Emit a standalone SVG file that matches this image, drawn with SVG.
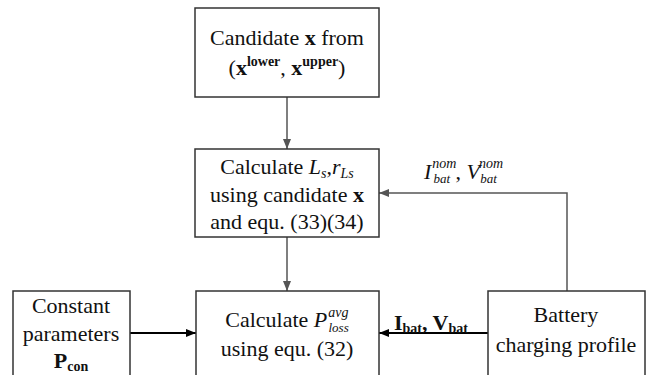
<svg xmlns="http://www.w3.org/2000/svg" width="652" height="375" viewBox="0 0 652 375">
<style>
.box{fill:#fff;stroke:#333;stroke-width:1.5}
.t{font-size:22px;fill:#111}
.c{text-anchor:middle}
.g{stroke:#555;stroke-width:1.5;fill:none}
.k{stroke:#000;stroke-width:2.2;fill:none}
.sup{font-size:14px}
.sub{font-size:13px}
</style>
<defs>
<marker id="ag" viewBox="0 0 10 8" refX="10" refY="4" markerWidth="10" markerHeight="8" markerUnits="userSpaceOnUse" orient="auto"><path d="M0,0 L10,4 L0,8 Z" fill="#555"/></marker>
<marker id="ak" viewBox="0 0 10 8" refX="10" refY="4" markerWidth="10" markerHeight="8" markerUnits="userSpaceOnUse" orient="auto"><path d="M0,0 L10,4 L0,8 Z" fill="#000"/></marker>
</defs>
<g id="connectors">
<line class="g" x1="287" y1="97" x2="287" y2="149" marker-end="url(#ag)"/>
<line class="g" x1="287" y1="237" x2="287" y2="291" marker-end="url(#ag)"/>
<polyline class="g" points="567,291 567,193 379,193" marker-end="url(#ag)"/>
<line class="k" x1="130" y1="333" x2="196" y2="333" marker-end="url(#ak)"/>
<line class="k" x1="488" y1="333" x2="379" y2="333" marker-end="url(#ak)"/>
<text class="t" font-family="Liberation Serif" x="424" y="179"><tspan font-style="italic">I</tspan><tspan class="sup" font-style="italic" dx="1" dy="-11">nom</tspan><tspan class="sub" font-style="italic" dx="-23" dy="15">bat</tspan><tspan dy="-4"> , </tspan><tspan font-style="italic">V</tspan><tspan class="sup" font-style="italic" dx="-1" dy="-11">nom</tspan><tspan class="sub" font-style="italic" dx="-23" dy="15">bat</tspan></text>
<text class="t" font-family="Liberation Serif" x="394" y="330" font-weight="bold">I<tspan class="sup" dy="3">bat</tspan><tspan dy="-3">, V</tspan><tspan class="sup" dy="3">bat</tspan></text>
</g>
<g id="n1">
<rect class="box" x="195" y="8" width="184" height="89"/>
<text class="t c" font-family="Liberation Serif" x="287" y="45">Candidate <tspan font-weight="bold">x</tspan> from</text>
<text class="t c" font-family="Liberation Serif" x="287" y="75">(<tspan font-weight="bold">x</tspan><tspan class="sup" font-weight="bold" dy="-9">lower</tspan><tspan dy="9">, </tspan><tspan font-weight="bold">x</tspan><tspan class="sup" font-weight="bold" dy="-9">upper</tspan><tspan dy="9">)</tspan></text>
</g>
<g id="n2">
<rect class="box" x="195" y="149" width="184" height="88"/>
<text class="t c" font-family="Liberation Serif" x="287" y="174">Calculate <tspan font-style="italic">L</tspan><tspan class="sup" font-style="italic" dy="4">s</tspan><tspan dy="-4">,</tspan><tspan font-style="italic">r</tspan><tspan class="sup" font-style="italic" dy="4">Ls</tspan></text>
<text class="t c" font-family="Liberation Serif" x="287" y="202">using candidate <tspan font-weight="bold">x</tspan></text>
<text class="t c" font-family="Liberation Serif" x="287" y="229">and equ. (33)(34)</text>
</g>
<g id="n3">
<rect class="box" x="196" y="291" width="183" height="100"/>
<text class="t c" font-family="Liberation Serif" x="287" y="327">Calculate <tspan font-style="italic">P</tspan><tspan class="sup" font-style="italic" dx="1" dy="-10">avg</tspan><tspan class="sub" font-style="italic" dx="-20" dy="15">loss</tspan></text>
<text class="t c" font-family="Liberation Serif" x="287" y="356">using equ. (32)</text>
</g>
<g id="n4">
<rect class="box" x="13" y="291" width="117" height="100"/>
<text class="t c" font-family="Liberation Serif" x="71" y="313">Constant</text>
<text class="t c" font-family="Liberation Serif" x="71" y="341">parameters</text>
<text class="t c" font-family="Liberation Serif" x="71" y="368" font-weight="bold">P<tspan class="sup" dy="3">con</tspan></text>
</g>
<g id="n5">
<rect class="box" x="488" y="291" width="157" height="100"/>
<text class="t c" font-family="Liberation Serif" x="566" y="322">Battery</text>
<text class="t c" font-family="Liberation Serif" x="566" y="352">charging profile</text>
</g>
</svg>
